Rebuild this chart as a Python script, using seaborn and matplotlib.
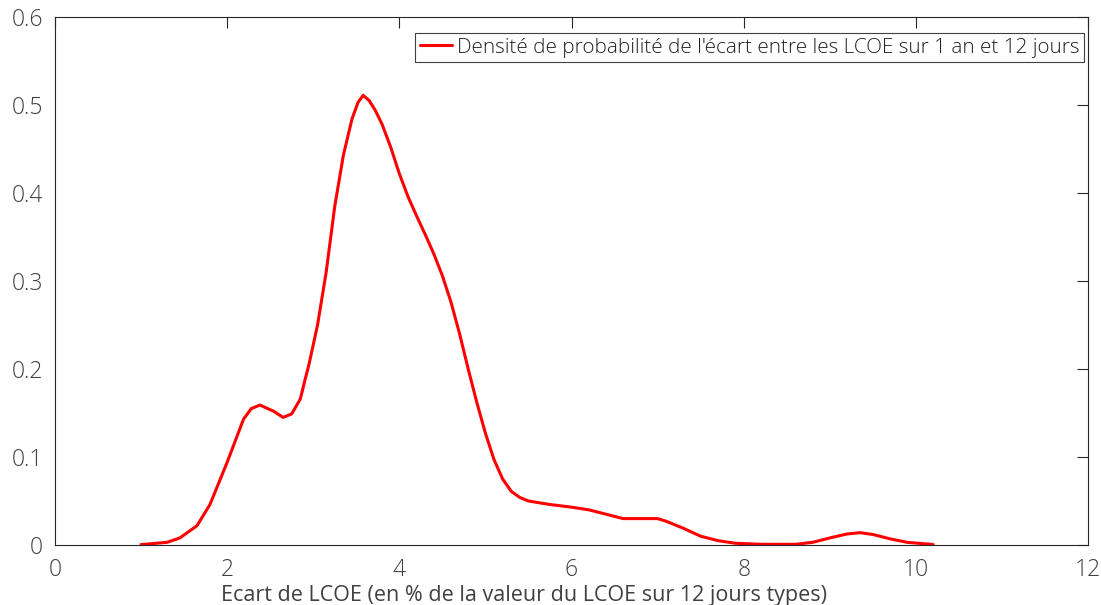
import matplotlib
matplotlib.use("Agg")
import matplotlib.pyplot as plt
import seaborn as sns
import numpy as np
import pandas as pd

# Kernel density estimate of the LCOE gap (1 year vs 12 typical days)
ecart = [1.0, 1.3, 1.45, 1.65, 1.8, 2.0, 2.19, 2.28, 2.38, 2.54, 2.65, 2.75,
         2.85, 2.9, 2.95, 3.05, 3.15, 3.25, 3.35, 3.45, 3.52, 3.58, 3.65,
         3.72, 3.8, 3.9, 4.0, 4.1, 4.2, 4.3, 4.4, 4.5, 4.6, 4.7, 4.8, 4.9,
         5.0, 5.1, 5.2, 5.3, 5.4, 5.5, 5.75, 6.0, 6.2, 6.4, 6.6, 6.8, 7.0,
         7.1, 7.3, 7.5, 7.7, 7.9, 8.2, 8.6, 8.8, 9.0, 9.2, 9.35, 9.5, 9.7,
         9.9, 10.2]
densite = [0.0005, 0.003, 0.008, 0.022, 0.046, 0.094, 0.143, 0.155, 0.159,
           0.152, 0.145, 0.149, 0.166, 0.186, 0.205, 0.25, 0.31, 0.385, 0.443,
           0.484, 0.503, 0.511, 0.505, 0.494, 0.478, 0.452, 0.422, 0.396,
           0.374, 0.353, 0.331, 0.306, 0.276, 0.24, 0.2, 0.162, 0.127, 0.097,
           0.075, 0.061, 0.054, 0.050, 0.046, 0.043, 0.040, 0.035, 0.030,
           0.030, 0.030, 0.027, 0.019, 0.010, 0.005, 0.002, 0.0008, 0.0008,
           0.003, 0.008, 0.0125, 0.014, 0.012, 0.007, 0.003, 0.0006]
x_ticks = [0, 2, 4, 6, 8, 10, 12]
y_ticks = [0, 0.1, 0.2, 0.3, 0.4, 0.5, 0.6]
legende = "Densité de probabilité de l'écart entre les LCOE sur 1 an et 12 jours"
x_label = "Ecart de LCOE (en % de la valeur du LCOE sur 12 jours types)"

sns.set_style("white")
plt.rcParams["font.family"] = ["Open Sans", "DejaVu Sans"]
plt.rcParams["font.weight"] = "light"
text_color = "#404040"

fig = plt.figure(figsize=(11.01, 6.05), dpi=100)
ax = fig.add_axes([55 / 1101, 60 / 605, 1033 / 1101, 528 / 605])

df = pd.DataFrame({"ecart": ecart, "densite": densite})
sns.lineplot(data=df, x="ecart", y="densite", ax=ax, color="red",
             linewidth=2.2, label=legende)

ax.set_xlim(0, 12)
ax.set_ylim(0, 0.6)
ax.set_xticks(x_ticks)
ax.set_xticklabels([f"{t:g}" for t in x_ticks])
ax.set_yticks(y_ticks)
ax.set_yticklabels([f"{t:g}" for t in y_ticks])
ax.tick_params(direction="in", length=7.7, width=0.8, colors="#262626",
               top=True, right=True, labelsize=16.5, labelcolor=text_color)
ax.tick_params(axis="x", pad=9)
ax.tick_params(axis="y", pad=8.5)
for s in ax.spines.values():
    s.set_visible(True)
    s.set_color("#262626")
    s.set_linewidth(0.8)

ax.set_ylabel("")
ax.set_xlabel(x_label, fontsize=15.5, color=text_color)
ax.xaxis.set_label_coords(0.454, -0.076)
ax.xaxis.label.set_va("top")

leg = ax.legend(loc="upper right", bbox_to_anchor=(0.9961, 0.9697),
                borderaxespad=0, fontsize=14.9, frameon=True, fancybox=False,
                framealpha=1, edgecolor="#404040", handlelength=1.55,
                handletextpad=0.25, borderpad=0.22)
leg.get_frame().set_linewidth(0.8)
for t in leg.get_texts():
    t.set_color("#202020")

fig.savefig("out.png", dpi=100)
